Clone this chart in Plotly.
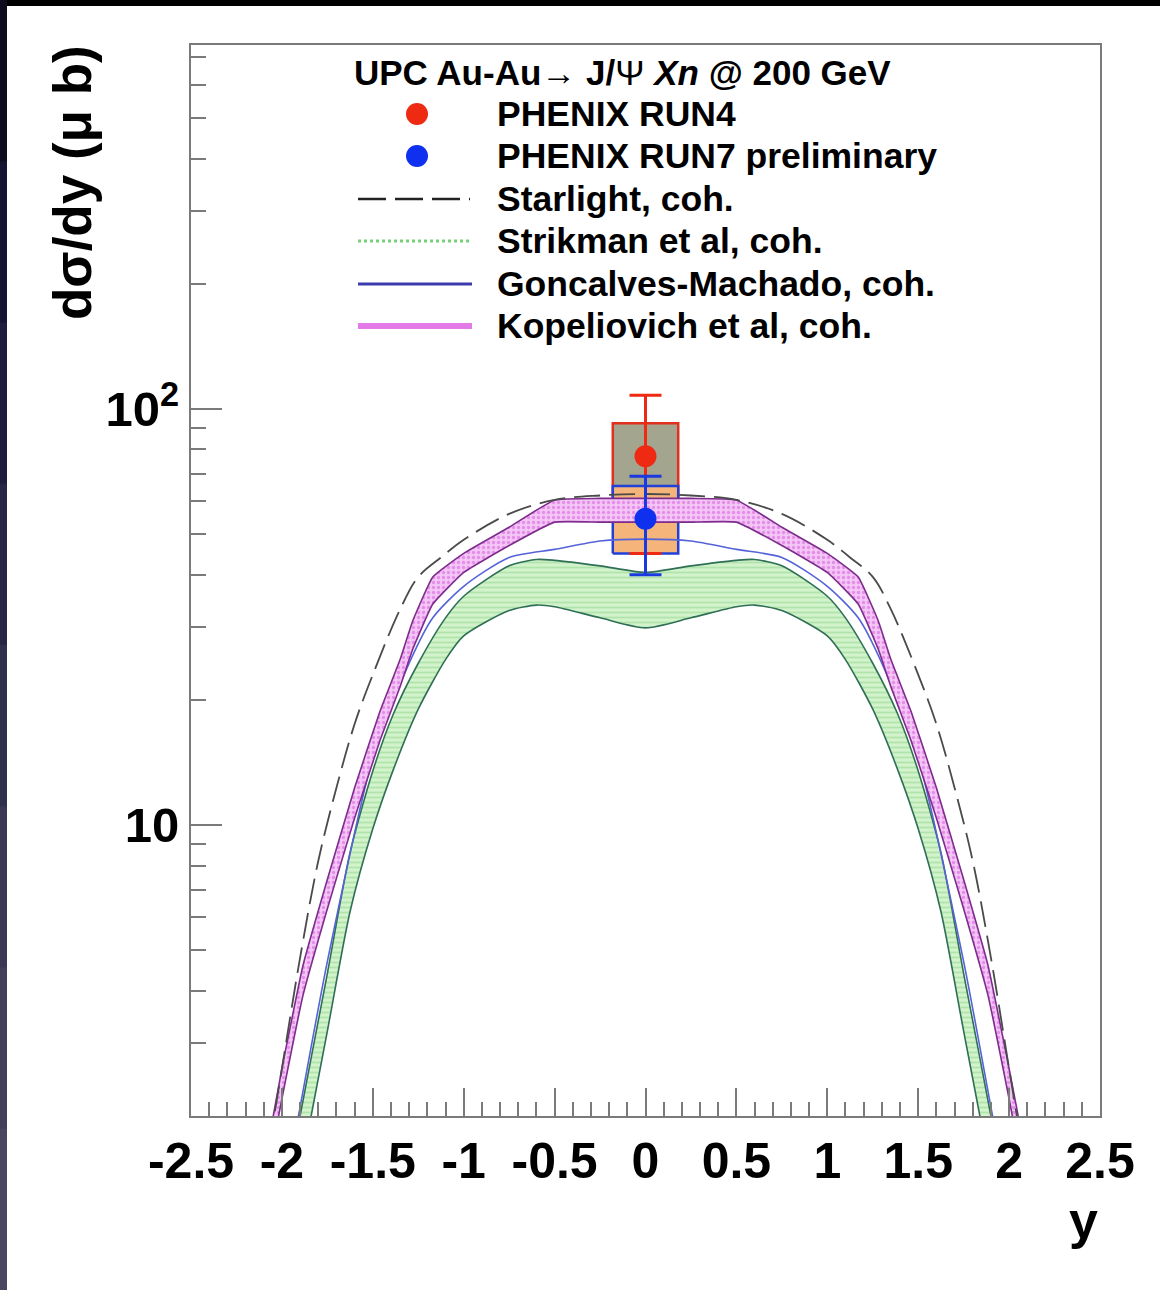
import numpy as np
import plotly.graph_objects as go

# ---------------- data ----------------
# Starlight, coherent (dashed line)
star_y = [-2.1, -2.0, -1.9, -1.8, -1.7, -1.6, -1.5, -1.35, -1.25, -1.125, -1.0, -0.75, -0.5, -0.25, 0.0,
          0.25, 0.5, 0.75, 1.0, 1.125, 1.25, 1.35, 1.5, 1.6, 1.7, 1.8, 1.9, 2.0, 2.1]
star_v = [1.4, 2.6, 4.8, 8.2, 12.3, 17.5, 23.0, 33.0, 39.5, 44.0, 48.5, 56.0, 60.5, 62.0, 62.5,
          62.0, 60.5, 56.0, 48.5, 44.0, 39.5, 33.0, 23.0, 17.5, 12.3, 8.2, 4.8, 2.6, 1.4]

# Strikman et al, coherent (band)
strik_y = [-1.95, -1.9, -1.75, -1.625, -1.5, -1.387, -1.25, -1.1, -1.0, -0.75, -0.6, -0.5, -0.25, 0.0,
           0.25, 0.5, 0.6, 0.75, 1.0, 1.1, 1.25, 1.387, 1.5, 1.625, 1.75, 1.9, 1.95]
strik_hi = [1.5, 2.0, 4.4, 8.6, 13.5, 18.5, 24.5, 31.5, 35.5, 42.0, 43.5, 43.3, 42.0, 40.5,
            42.0, 43.3, 43.5, 42.0, 35.5, 31.5, 24.5, 18.5, 13.5, 8.6, 4.4, 2.0, 1.5]
strik_lo = [1.1, 1.45, 3.2, 6.2, 9.8, 13.6, 19.0, 25.0, 28.5, 32.8, 33.8, 33.5, 31.5, 29.8,
            31.5, 33.5, 33.8, 32.8, 28.5, 25.0, 19.0, 13.6, 9.8, 6.2, 3.2, 1.45, 1.1]

# Goncalves-Machado, coherent (line)
gonc_y = [-1.95, -1.9, -1.75, -1.5, -1.3, -1.17, -1.0, -0.75, -0.5, -0.25, 0.0,
          0.25, 0.5, 0.75, 1.0, 1.17, 1.3, 1.5, 1.75, 1.9, 1.95]
gonc_v = [1.6, 2.1, 4.7, 14.5, 24.5, 31.5, 37.5, 44.0, 46.0, 48.2, 48.7,
          48.2, 46.0, 44.0, 37.5, 31.5, 24.5, 14.5, 4.7, 2.1, 1.6]

# Kopeliovich et al, coherent (band)
kop_y = [-2.1, -2.0, -1.884, -1.75, -1.6, -1.46, -1.35, -1.28, -1.17, -1.0, -0.75, -0.5, -0.25, 0.0,
         0.25, 0.5, 0.75, 1.0, 1.17, 1.28, 1.35, 1.46, 1.6, 1.75, 1.884, 2.0, 2.1]
kop_hi = [1.5, 2.6, 4.6, 7.4, 12.3, 18.8, 25.0, 31.0, 39.5, 45.0, 52.0, 60.5, 61.0, 61.0,
          61.0, 60.5, 52.0, 45.0, 39.5, 31.0, 25.0, 18.8, 12.3, 7.4, 4.6, 2.6, 1.5]
kop_lo = [1.3, 2.2, 3.9, 6.3, 10.4, 16.0, 21.5, 26.5, 34.0, 40.5, 47.0, 53.5, 53.5, 53.5,
          53.5, 53.5, 47.0, 40.5, 34.0, 26.5, 21.5, 16.0, 10.4, 6.3, 3.9, 2.2, 1.3]

# PHENIX measurements at y = 0
run4_y = [0.0]
run4_v = [77.0]
run4_stat_hi = [108.0]
run4_stat_lo = [45.0]
run4_sys_hi = [92.5]
run4_sys_lo = [61.0]

run7_y = [0.0]
run7_v = [54.5]
run7_stat_hi = [69.0]
run7_stat_lo = [40.0]
run7_sys_hi = [65.3]
run7_sys_lo = [45.0]

box_halfwidth = 0.18

x_tickvals = [-2.5, -2.0, -1.5, -1.0, -0.5, 0.0, 0.5, 1.0, 1.5, 2.0, 2.5]
x_ticktext = ["-2.5", "-2", "-1.5", "-1", "-0.5", "0", "0.5", "1", "1.5", "2", "2.5"]
y_tickvals = [10, 100]
y_ticktext = ["10", "10<sup>2</sup>"]
y_minor = [2, 3, 4, 5, 6, 7, 8, 9, 20, 30, 40, 50, 60, 70, 80, 90, 200, 300, 400, 500, 600, 700]

legend_header = "UPC Au-Au→ J/<span style='font-weight:normal'>Ψ</span> <i>Xn</i> @ 200 GeV"
legend_labels = ["PHENIX RUN4", "PHENIX RUN7 preliminary", "Starlight, coh.",
                 "Strikman et al, coh.", "Goncalves-Machado, coh.", "Kopeliovich et al, coh."]

# ---------------- layout helpers ----------------
W, H = 1160, 1290
ML, MR, MT, MB = 191, 60, 45, 174
PW, PH = W - ML - MR, H - MT - MB


def px_x(p):
    return (p - ML) / PW


def px_y(p):
    return (H - MB - p) / PH


FONT = "Liberation Sans, Arial, sans-serif"

fig = go.Figure()


def box_trace(yc, lo, hi, fill, line):
    x0, x1 = yc - box_halfwidth, yc + box_halfwidth
    return go.Scatter(x=[x0, x1, x1, x0, x0], y=[lo, lo, hi, hi, lo], mode="lines",
                      fill="toself", fillcolor=fill, line=dict(color=line, width=2.5),
                      hoverinfo="skip")


# systematic boxes
fig.add_trace(box_trace(run4_y[0], run4_sys_lo[0], run4_sys_hi[0], "#a3a58f", "#e2301e"))
fig.add_trace(box_trace(run7_y[0], run7_sys_lo[0], run7_sys_hi[0], "#f4b47a", "#2040d8"))

# Strikman band
fig.add_trace(go.Scatter(
    x=strik_y + strik_y[::-1], y=strik_hi + strik_lo[::-1], mode="lines", fill="toself",
    fillcolor="#c6edbd",
    fillpattern=dict(shape="-", fgcolor="#8fd68a", bgcolor="#d3f3cc", size=5, solidity=0.35),
    line=dict(color="#2f6f55", width=1.6, shape="spline", smoothing=0.7), hoverinfo="skip"))

# Goncalves line
fig.add_trace(go.Scatter(x=gonc_y, y=gonc_v, mode="lines",
                         line=dict(color="#5563d8", width=1.6, shape="spline", smoothing=0.7),
                         hoverinfo="skip"))

# Kopeliovich band
fig.add_trace(go.Scatter(
    x=kop_y + kop_y[::-1], y=kop_hi + kop_lo[::-1], mode="lines", fill="toself",
    fillcolor="#eeb0f2",
    fillpattern=dict(shape=".", fgcolor="#d656e0", bgcolor="#f3c6f5", size=5, solidity=0.35),
    line=dict(color="#7d2c8c", width=1.6, shape="spline", smoothing=0.35), hoverinfo="skip"))

# Starlight
fig.add_trace(go.Scatter(x=star_y, y=star_v, mode="lines",
                         line=dict(color="#4a4a4a", width=1.8, dash="26px,9px",
                                   shape="spline", smoothing=1.0),
                         hoverinfo="skip"))

# data points with stat errors
fig.add_trace(go.Scatter(
    x=run4_y, y=run4_v, mode="markers",
    marker=dict(color="#ee2a12", size=22),
    error_y=dict(type="data", symmetric=False,
                 array=[h - v for h, v in zip(run4_stat_hi, run4_v)],
                 arrayminus=[v - l for l, v in zip(run4_stat_lo, run4_v)],
                 color="#ee2a12", thickness=3, width=16),
    hoverinfo="skip"))
fig.add_trace(go.Scatter(
    x=run7_y, y=run7_v, mode="markers",
    marker=dict(color="#1030f0", size=22),
    error_y=dict(type="data", symmetric=False,
                 array=[h - v for h, v in zip(run7_stat_hi, run7_v)],
                 arrayminus=[v - l for l, v in zip(run7_stat_lo, run7_v)],
                 color="#1a3ae0", thickness=3, width=16),
    hoverinfo="skip"))

axis_col = "#7a7a7a"
fig.update_xaxes(
    range=[-2.5, 2.5], showgrid=False, zeroline=False,
    showline=True, linecolor=axis_col, linewidth=2, mirror=True,
    tickmode="array", tickvals=x_tickvals, ticktext=x_ticktext,
    ticks="inside", ticklen=28, tickwidth=2, tickcolor=axis_col,
    tickfont=dict(family=FONT, size=50, color="black", weight="bold"),
    minor=dict(tick0=-2.5, dtick=0.1, ticks="inside", ticklen=14, tickwidth=2, tickcolor=axis_col),
    ticklabelstandoff=0,
)
fig.update_yaxes(
    type="log", range=[np.log10(2.0), np.log10(750.0)], showgrid=False, zeroline=False,
    showline=True, linecolor=axis_col, linewidth=2, mirror=True,
    tickmode="array", tickvals=y_tickvals, ticktext=y_ticktext,
    ticks="inside", ticklen=31, tickwidth=2, tickcolor=axis_col,
    tickfont=dict(family=FONT, size=49, color="black", weight="bold"),
    minor=dict(tickvals=y_minor, ticks="inside", ticklen=15, tickwidth=2, tickcolor=axis_col),
)

shapes = []
annotations = []

# dark photo border (top and left)
shapes.append(dict(type="rect", xref="paper", yref="paper", x0=px_x(0), x1=px_x(W), y0=px_y(6), y1=px_y(-2),
                   fillcolor="black", line=dict(width=0), layer="below"))
strip_cols = ["#0c0c1c", "#141430", "#1c1c3c", "#262644", "#30304c", "#3a3852", "#433f58", "#4a465e"]
n = len(strip_cols)
for i, c in enumerate(strip_cols):
    shapes.append(dict(type="rect", xref="paper", yref="paper", x0=px_x(-2), x1=px_x(7),
                       y0=px_y(H * (i + 1) / n + 1), y1=px_y(H * i / n),
                       fillcolor=c, line=dict(width=0), layer="below"))

# legend
row_y = [114, 156, 199, 241, 284, 326]
annotations.append(dict(x=px_x(352), y=px_y(72), xref="paper", yref="paper", text=legend_header,
                        showarrow=False, xanchor="left", yanchor="middle",
                        font=dict(family=FONT, size=35, color="black", weight="bold")))
for ry, lab in zip(row_y, legend_labels):
    annotations.append(dict(x=px_x(495), y=px_y(ry), xref="paper", yref="paper", text=lab,
                            showarrow=False, xanchor="left", yanchor="middle",
                            font=dict(family=FONT, size=35.5, color="black", weight="bold")))

r = 11
for ry, col in zip(row_y[:2], ["#ee2a12", "#1030f0"]):
    shapes.append(dict(type="circle", xref="paper", yref="paper",
                       x0=px_x(417 - r), x1=px_x(417 + r), y0=px_y(ry + r), y1=px_y(ry - r),
                       fillcolor=col, line=dict(width=0)))
shapes.append(dict(type="line", xref="paper", yref="paper", x0=px_x(358), x1=px_x(470),
                   y0=px_y(row_y[2]), y1=px_y(row_y[2]), line=dict(color="#222222", width=2.5, dash="28px,9px")))
shapes.append(dict(type="line", xref="paper", yref="paper", x0=px_x(358), x1=px_x(472),
                   y0=px_y(row_y[3]), y1=px_y(row_y[3]), line=dict(color="#78d078", width=3, dash="dot")))
shapes.append(dict(type="line", xref="paper", yref="paper", x0=px_x(358), x1=px_x(472),
                   y0=px_y(row_y[4]), y1=px_y(row_y[4]), line=dict(color="#3c3cb0", width=3)))
shapes.append(dict(type="line", xref="paper", yref="paper", x0=px_x(358), x1=px_x(472),
                   y0=px_y(row_y[5]), y1=px_y(row_y[5]), line=dict(color="#e27ae8", width=6)))

# axis titles
annotations.append(dict(x=px_x(72), y=px_y(182), xref="paper", yref="paper",
                        text="dσ/dy (μ b)", textangle=-90, showarrow=False,
                        xanchor="center", yanchor="middle",
                        font=dict(family=FONT, size=53, color="black", weight="bold")))
annotations.append(dict(x=px_x(1083), y=px_y(1220), xref="paper", yref="paper",
                        text="y", showarrow=False, xanchor="center", yanchor="middle",
                        font=dict(family=FONT, size=52, color="black", weight="bold")))

fig.update_layout(
    width=W, height=H, margin=dict(l=ML, r=MR, t=MT, b=MB, pad=0),
    paper_bgcolor="white", plot_bgcolor="white", showlegend=False,
    shapes=shapes, annotations=annotations,
)

fig.write_html("out.html")
